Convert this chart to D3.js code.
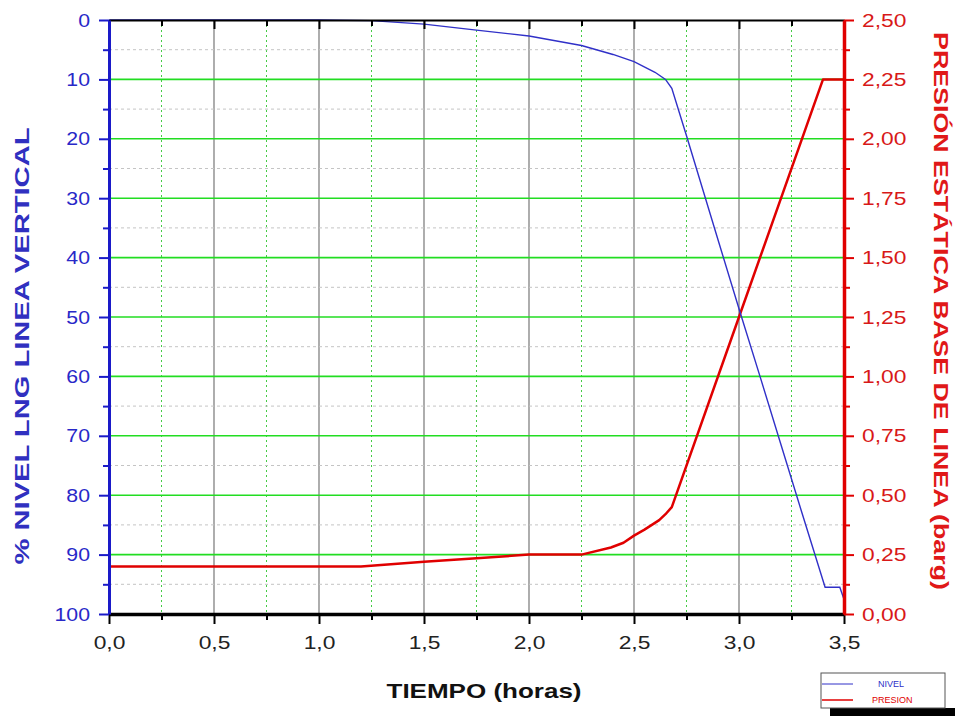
<!DOCTYPE html>
<html><head><meta charset="utf-8">
<script src="https://cdn.jsdelivr.net/npm/d3@7"></script>
<style>body{margin:0;background:#fff}svg{display:block}</style>
</head><body><svg id="c" width="956" height="716"></svg>
<script>
const nivelTime = [0, 1.0, 1.25, 1.5, 1.75, 2.0, 2.25, 2.4, 2.5, 2.6, 2.65, 2.68, 2.75, 2.9, 3.0, 3.1, 3.2, 3.3, 3.41, 3.48, 3.5];
const nivelVal  = [0, 0, 0.1, 0.7, 1.7, 2.7, 4.3, 5.8, 7.0, 8.8, 10.0, 11.5, 19.5, 37, 48.6, 60, 71.5, 83, 95.5, 95.5, 97.5];
const presTime = [0, 1.2, 1.5, 1.75, 2.0, 2.25, 2.39, 2.45, 2.5, 2.55, 2.62, 2.65, 2.68, 3.0, 3.4, 3.5];
const presVal  = [0.2, 0.2, 0.22, 0.235, 0.25, 0.25, 0.28, 0.30, 0.33, 0.355, 0.395, 0.42, 0.45, 1.25, 2.25, 2.25];
const xTicks = [0, 0.5, 1.0, 1.5, 2.0, 2.5, 3.0, 3.5];
const leftTicks = [0, 10, 20, 30, 40, 50, 60, 70, 80, 90, 100];
const rightTicks = [0, 0.25, 0.5, 0.75, 1.0, 1.25, 1.5, 1.75, 2.0, 2.25, 2.5];
const legendNames = ["NIVEL", "PRESION"];

const svg = d3.select("#c");
const L = 109, R = 844, T = 20, B = 614;
const x = d3.scaleLinear().domain([0, 3.5]).range([L, R]);
const yL = d3.scaleLinear().domain([0, 100]).range([T, B]);
const yR = d3.scaleLinear().domain([0, 2.5]).range([B, T]);
const fmt1 = v => d3.format(".1f")(v).replace(".", ",");
const fmt2 = v => d3.format(".2f")(v).replace(".", ",");
const BLUE = "#1a1ac8", LINEBLUE = "#3030c8", RED = "#e00000", GREEN = "#22dd22";
const font = "'Liberation Sans', Arial, sans-serif";

function stretch(sel, k) {
  sel.each(function () {
    const w = this.getComputedTextLength();
    d3.select(this).attr("textLength", w * k).attr("lengthAdjust", "spacingAndGlyphs");
  });
}

// grid
const g = svg.append("g");
const minorX = d3.range(0.25, 3.5, 0.5);
const majorX = xTicks.filter(v => v > 0 && v < 3.5);
g.selectAll(".vmin").data(minorX).join("line")
  .attr("x1", d => x(d)).attr("x2", d => x(d)).attr("y1", T).attr("y2", B)
  .attr("stroke", "#44cc44").attr("stroke-width", 1).attr("stroke-dasharray", "2,3");
g.selectAll(".vmaj").data(majorX).join("line")
  .attr("x1", d => x(d)).attr("x2", d => x(d)).attr("y1", T).attr("y2", B)
  .attr("stroke", "#777").attr("stroke-width", 1.2);
const minorY = d3.range(5, 100, 10);
g.selectAll(".hmin").data(minorY).join("line")
  .attr("x1", L).attr("x2", R).attr("y1", d => yL(d)).attr("y2", d => yL(d))
  .attr("stroke", "#c4c4c4").attr("stroke-width", 1).attr("stroke-dasharray", "3,3");
g.selectAll(".hmaj").data(leftTicks.filter(v => v > 0 && v < 100)).join("line")
  .attr("x1", L).attr("x2", R).attr("y1", d => yL(d)).attr("y2", d => yL(d))
  .attr("stroke", GREEN).attr("stroke-width", 1.6);

// lines
const nivelData = nivelTime.map((t, i) => [t, nivelVal[i]]);
const presData = presTime.map((t, i) => [t, presVal[i]]);
svg.append("path").datum(presData)
  .attr("d", d3.line().x(d => x(d[0])).y(d => yR(d[1])))
  .attr("fill", "none").attr("stroke", RED).attr("stroke-width", 2.5).attr("stroke-linejoin", "round");
svg.append("path").datum(nivelData)
  .attr("d", d3.line().x(d => x(d[0])).y(d => yL(d[1])))
  .attr("fill", "none").attr("stroke", LINEBLUE).attr("stroke-width", 1.4);

// axes
function styleAxis(sel, color, w) {
  sel.select(".domain").attr("stroke", color).attr("stroke-width", w);
  sel.selectAll(".tick line").attr("stroke", color).attr("stroke-width", 2);
  sel.selectAll("text").attr("font-family", font).attr("font-size", 19);
}
function minorStyle(color) {
  return s => { s.select(".domain").remove(); s.selectAll(".tick line").attr("stroke", color).attr("stroke-width", 2); };
}
svg.append("g").attr("transform", `translate(0,${B})`)
  .call(d3.axisBottom(x).tickValues(minorX).tickSize(6).tickFormat("")).call(minorStyle("#000"));
svg.append("g").attr("transform", `translate(0,${T})`)
  .call(d3.axisBottom(x).tickValues(minorX).tickSize(6).tickFormat("")).call(minorStyle("#000"));
svg.append("g").attr("transform", `translate(${L},0)`)
  .call(d3.axisLeft(yL).tickValues(minorY).tickSize(6).tickFormat("")).call(minorStyle(BLUE));
svg.append("g").attr("transform", `translate(${R},0)`)
  .call(d3.axisRight(yR).tickValues(d3.range(0.125, 2.5, 0.25)).tickSize(6).tickFormat("")).call(minorStyle(RED));

// top axis (inward ticks)
svg.append("g").attr("transform", `translate(0,${T})`)
  .call(d3.axisBottom(x).tickValues(xTicks).tickSize(9).tickSizeOuter(0).tickFormat(""))
  .call(s => styleAxis(s, "#000", 2));
// bottom
svg.append("g").attr("transform", `translate(0,${B})`)
  .call(d3.axisBottom(x).tickValues(xTicks).tickSize(10).tickSizeOuter(0).tickPadding(12).tickFormat(fmt1))
  .call(s => { styleAxis(s, "#000", 3.5); s.selectAll("text").attr("fill", "#222").call(stretch, 1.2); });
// left
svg.append("g").attr("transform", `translate(${L},0)`)
  .call(d3.axisLeft(yL).tickValues(leftTicks).tickSize(10).tickSizeOuter(0).tickPadding(9).tickFormat(d => d))
  .call(s => { styleAxis(s, BLUE, 3); s.selectAll("text").attr("fill", "#2828c8").call(stretch, 1.12); });
// right
svg.append("g").attr("transform", `translate(${R},0)`)
  .call(d3.axisRight(yR).tickValues(rightTicks).tickSize(10).tickSizeOuter(0).tickPadding(8).tickFormat(fmt2))
  .call(s => { styleAxis(s, RED, 3.5); s.selectAll("text").attr("fill", "#d81818").call(stretch, 1.2); });

// titles
svg.append("text").attr("x", 484).attr("y", 698).attr("text-anchor", "middle")
  .attr("font-family", font).attr("font-size", 21).attr("font-weight", "bold").attr("fill", "#111")
  .attr("textLength", 195).attr("lengthAdjust", "spacingAndGlyphs")
  .text("TIEMPO (horas)");
svg.append("text").attr("transform", "translate(29,346) rotate(-90)").attr("text-anchor", "middle")
  .attr("font-family", font).attr("font-size", 21).attr("font-weight", "bold").attr("fill", "#3030c0")
  .attr("textLength", 437).attr("lengthAdjust", "spacingAndGlyphs")
  .text("% NIVEL LNG LINEA VERTICAL");
svg.append("text").attr("transform", "translate(934,311) rotate(90)").attr("text-anchor", "middle")
  .attr("font-family", font).attr("font-size", 21).attr("font-weight", "bold").attr("fill", "#e01818")
  .attr("textLength", 558).attr("lengthAdjust", "spacingAndGlyphs")
  .text("PRESIÓN ESTÁTICA BASE DE LINEA (barg)");

// legend
const lg = svg.append("g").attr("transform", "translate(821,673)");
lg.append("rect").attr("x", 9).attr("y", 35).attr("width", 125).attr("height", 8).attr("fill", "#000");
lg.append("rect").attr("x", 0).attr("y", 0).attr("width", 124).attr("height", 35)
  .attr("fill", "#fff").attr("stroke", "#555").attr("stroke-width", 1);
const lcol = [LINEBLUE, RED];
legendNames.forEach((n, i) => {
  const yy = 11 + i * 16;
  lg.append("line").attr("x1", 1).attr("x2", 32).attr("y1", yy).attr("y2", yy)
    .attr("stroke", lcol[i]).attr("stroke-width", i ? 1.5 : 1);
  lg.append("text").attr("x", i ? 51 : 57).attr("y", yy + 3).attr("font-family", font)
    .attr("font-size", 9).attr("fill", lcol[i]).text(n);
});
</script></body></html>
